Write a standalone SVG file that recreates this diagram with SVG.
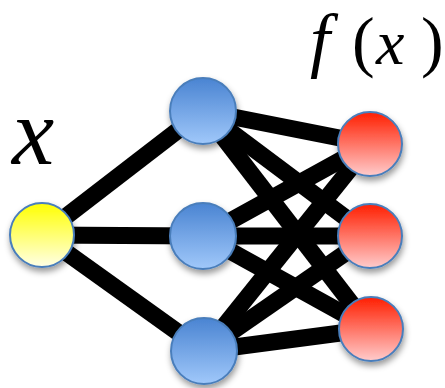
<svg xmlns="http://www.w3.org/2000/svg" width="445" height="388" viewBox="0 0 445 388">
<defs>
<linearGradient id="gy" x1="0" y1="0" x2="0" y2="1"><stop offset="0" stop-color="#ffff00"/><stop offset="1" stop-color="#ffffe6"/></linearGradient>
<linearGradient id="gb" x1="0" y1="0" x2="0" y2="1"><stop offset="0" stop-color="#4a84d2"/><stop offset="1" stop-color="#a0c8fa"/></linearGradient>
<linearGradient id="gr" x1="0" y1="0" x2="0" y2="1"><stop offset="0" stop-color="#ff1e00"/><stop offset="1" stop-color="#ffcccc"/></linearGradient>
<filter id="sh" x="-30%" y="-30%" width="160%" height="170%"><feDropShadow dx="1" dy="4" stdDeviation="3" flood-color="#000" flood-opacity="0.4"/></filter>
<style>
.n{stroke:#4a7ebb;stroke-width:2;filter:url(#sh)}
.e{stroke:#000;stroke-width:17;fill:none}
.lbl{font-family:'Liberation Serif',serif;fill:#000}
.i{font-style:italic}
</style>
</defs>
<g id="connectors">
<line class="e" x1="42" y1="235" x2="203" y2="111"/>
<line class="e" x1="42" y1="235" x2="203" y2="236"/>
<line class="e" x1="42" y1="235" x2="204" y2="351"/>
<line class="e" x1="203" y1="111" x2="370" y2="144"/>
<line class="e" x1="203" y1="111" x2="370" y2="236"/>
<line class="e" x1="203" y1="111" x2="371" y2="329"/>
<line class="e" x1="203" y1="236" x2="370" y2="144"/>
<line class="e" x1="203" y1="236" x2="370" y2="236"/>
<line class="e" x1="203" y1="236" x2="371" y2="329"/>
<line class="e" x1="204" y1="351" x2="370" y2="144"/>
<line class="e" x1="204" y1="351" x2="370" y2="236"/>
<line class="e" x1="204" y1="351" x2="371" y2="329"/>
</g>
<g id="input"><circle class="n" cx="42" cy="235" r="32" fill="url(#gy)"/></g>
<g id="hidden1"><circle class="n" cx="203" cy="111" r="33" fill="url(#gb)"/></g>
<g id="hidden2"><circle class="n" cx="203" cy="236" r="33" fill="url(#gb)"/></g>
<g id="hidden3"><circle class="n" cx="204" cy="351" r="33" fill="url(#gb)"/></g>
<g id="output1"><circle class="n" cx="370" cy="144" r="32" fill="url(#gr)"/></g>
<g id="output2"><circle class="n" cx="370" cy="236" r="32" fill="url(#gr)"/></g>
<g id="output3"><circle class="n" cx="371" cy="329" r="32" fill="url(#gr)"/></g>
<g id="labels">
<text class="lbl i" x="12" y="164" font-size="95">x</text>
<text class="lbl" y="64" font-size="64"><tspan class="i" x="310" font-size="72">f</tspan><tspan x="352" font-size="68">(</tspan><tspan class="i" x="376">x</tspan><tspan x="421" font-size="68">)</tspan></text>
</g>
</svg>
